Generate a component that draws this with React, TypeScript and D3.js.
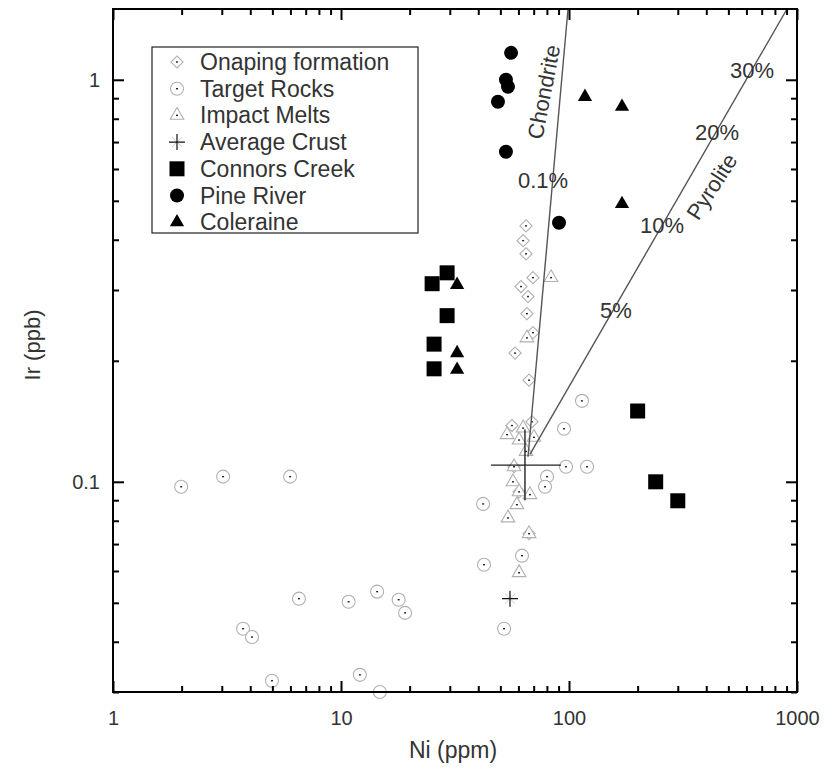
import { useEffect, useRef } from 'react';
import * as d3 from 'd3';

type Pt = [number, number];

// Ni (ppm), Ir (ppb)
const onaping: Pt[] = [
  [64.8, 0.433], [62.9, 0.398], [64.8, 0.369], [69.5, 0.322], [61.6, 0.306],
  [66.1, 0.289], [65.4, 0.262], [69.5, 0.235], [58.0, 0.209], [66.8, 0.179],
  [56.2, 0.138], [68.8, 0.141], [57.4, 0.109], [60.4, 0.0944], [66.8, 0.0743],
];
const targetRocks: Pt[] = [
  [1.99, 0.0972], [3.04, 0.103], [5.98, 0.103], [6.54, 0.0512], [3.72, 0.0431],
  [4.07, 0.0411], [4.98, 0.032], [10.8, 0.0503], [14.4, 0.0533], [17.9, 0.0509],
  [19.1, 0.0472], [12.1, 0.0331], [14.8, 0.03], [114, 0.159], [95.1, 0.1355],
  [97.0, 0.109], [120, 0.109], [80.1, 0.103], [78.5, 0.0972], [42.0, 0.0881],
  [62.2, 0.0655], [42.4, 0.0622], [51.9, 0.0431],
];
const impactMelts: Pt[] = [
  [83.4, 0.322], [65.4, 0.228], [62.9, 0.136], [53.5, 0.131], [60.4, 0.127],
  [70.2, 0.129], [64.8, 0.119], [57.4, 0.109], [56.8, 0.1], [60.4, 0.0944],
  [67.4, 0.0929], [59.1, 0.0877], [54.0, 0.0813], [66.8, 0.0743], [60.4, 0.0594],
];
const averageCrust: Pt[] = [[55.1, 0.0512]];
const connorsCreek: Pt[] = [
  [29.2, 0.331], [25.1, 0.311], [29.2, 0.259], [25.6, 0.22], [25.6, 0.191],
  [200, 0.15], [240, 0.1], [300, 0.0897],
];
const pineRiver: Pt[] = [
  [55.7, 1.167], [52.9, 1.0], [54.0, 0.961], [48.8, 0.882], [52.9, 0.662], [90.4, 0.441],
];
const coleraine: Pt[] = [
  [117.5, 0.907], [170.8, 0.857], [170.8, 0.491], [32.3, 0.309], [32.3, 0.209], [32.3, 0.19],
];

// mixing lines and the Onaping mean with its spread
const chondriteLine: Pt[] = [[66.1, 0.1154], [99, 1.5]];
const pyroliteLine: Pt[] = [[67.4, 0.117], [904, 1.5]];
const meanCross = { ni: 64.1, ir: 0.11, niLo: 45.5, niHi: 92.2, irLo: 0.09, irHi: 0.135 };

const lineLabels: { ni: number; ir: number; text: string; rot: number }[] = [
  { ni: 76.9, ir: 0.561, text: '0.1%', rot: 0 },
  { ni: 160.7, ir: 0.266, text: '5%', rot: 0 },
  { ni: 255.8, ir: 0.433, text: '10%', rot: 0 },
  { ni: 445.8, ir: 0.738, text: '20%', rot: 0 },
  { ni: 635, ir: 1.053, text: '30%', rot: 0 },
  { ni: 77.6, ir: 0.933, text: 'Chondrite', rot: -79 },
  { ni: 423.7, ir: 0.542, text: 'Pyrolite', rot: -57 },
];

const xMajor = [1, 10, 100, 1000];
const yMajor = [0.1, 1];

const legendItems = [
  { key: 'diamond', label: 'Onaping formation' },
  { key: 'ocircle', label: 'Target Rocks' },
  { key: 'otri', label: 'Impact Melts' },
  { key: 'plus', label: 'Average Crust' },
  { key: 'square', label: 'Connors Creek' },
  { key: 'fcircle', label: 'Pine River' },
  { key: 'ftri', label: 'Coleraine' },
];

const FONT = "'Liberation Sans', Arial, Helvetica, sans-serif";
const GREY = '#b0b0b0';

function drawMarker(g: d3.Selection<SVGGElement, unknown, null, undefined>, key: string, cx: number, cy: number) {
  const m = g.append('g').attr('transform', `translate(${cx},${cy})`);
  const sym = d3.symbol();
  if (key === 'diamond') {
    m.append('path').attr('d', sym.type(d3.symbolSquare).size(74)()).attr('transform', 'rotate(45)')
      .attr('fill', 'white').attr('stroke', GREY).attr('stroke-width', 1.1);
  } else if (key === 'ocircle') {
    m.append('circle').attr('r', 6.5).attr('fill', 'white').attr('stroke', GREY).attr('stroke-width', 1.1);
  } else if (key === 'otri') {
    m.append('path').attr('d', sym.type(d3.symbolTriangle).size(80)())
      .attr('fill', 'white').attr('stroke', GREY).attr('stroke-width', 1.1);
  } else if (key === 'plus') {
    m.append('path').attr('d', 'M-5,-5L5,5M-5,5L5,-5').attr('stroke', '#ccc').attr('stroke-width', 1);
    m.append('path').attr('d', 'M-8,0H8M0,-8V8').attr('stroke', '#111').attr('stroke-width', 1.2);
  } else if (key === 'square') {
    m.append('path').attr('d', sym.type(d3.symbolSquare).size(225)()).attr('fill', '#000');
  } else if (key === 'fcircle') {
    m.append('circle').attr('r', 7).attr('fill', '#000');
  } else if (key === 'ftri') {
    m.append('path').attr('d', sym.type(d3.symbolTriangle).size(88)()).attr('fill', '#000');
  }
  if (key === 'diamond' || key === 'ocircle' || key === 'otri') {
    m.append('rect').attr('x', -1).attr('y', -0.7).attr('width', 2).attr('height', 1.4).attr('fill', '#222');
  }
}

const App = () => {
  const ref = useRef<SVGSVGElement>(null);

  useEffect(() => {
    if (!ref.current) return;
    const svg = d3.select(ref.current);
    svg.selectAll('*').remove();

    const left = 113, right = 797, top = 9, bottom = 692;
    const x = d3.scaleLog().domain([1, 1000]).range([left, right]);
    const y = d3.scaleLog().domain([0.03, 1.5]).range([bottom, top]);

    const xTicks: number[] = [];
    for (const d of [1, 10, 100]) for (let k = 1; k < 10; k++) xTicks.push(d * k);
    xTicks.push(1000);
    const yTicks: number[] = [];
    for (const d of [0.01, 0.1]) for (let k = 1; k < 10; k++) {
      const v = +(d * k).toPrecision(3);
      if (v >= 0.03 && v <= 1.5) yTicks.push(v);
    }
    yTicks.push(1);
    const isMajor = (v: number, majors: number[]) => majors.some(m => Math.abs(m - v) < 1e-9);
    const fmt = (v: number) => (v >= 1 ? d3.format('d')(v) : String(v));

    const plot = svg.append('g');

    // open markers
    const g = plot.append('g') as any;
    targetRocks.forEach(d => drawMarker(g, 'ocircle', x(d[0]), y(d[1])));
    onaping.forEach(d => drawMarker(g, 'diamond', x(d[0]), y(d[1])));
    impactMelts.forEach(d => drawMarker(g, 'otri', x(d[0]), y(d[1])));

    // mixing lines
    const line = d3.line<Pt>().x(d => x(d[0])).y(d => y(d[1]));
    [chondriteLine, pyroliteLine].forEach(l => {
      plot.append('path').attr('d', line(l)).attr('fill', 'none').attr('stroke', '#555').attr('stroke-width', 1.4);
    });

    // mean with spread
    plot.append('path')
      .attr('d', `M${x(meanCross.niLo)},${y(meanCross.ir)}H${x(meanCross.niHi)}M${x(meanCross.ni)},${y(meanCross.irHi)}V${y(meanCross.irLo)}`)
      .attr('stroke', '#222').attr('stroke-width', 1.4).attr('fill', 'none');

    averageCrust.forEach(d => drawMarker(g, 'plus', x(d[0]), y(d[1])));
    connorsCreek.forEach(d => drawMarker(g, 'square', x(d[0]), y(d[1])));
    pineRiver.forEach(d => drawMarker(g, 'fcircle', x(d[0]), y(d[1])));
    coleraine.forEach(d => drawMarker(g, 'ftri', x(d[0]), y(d[1])));

    // line labels
    lineLabels.forEach(l => {
      plot.append('text')
        .attr('transform', `translate(${x(l.ni)},${y(l.ir)}) rotate(${l.rot})`)
        .attr('text-anchor', 'middle').attr('dominant-baseline', 'central')
        .style('font-family', FONT).style('font-size', '22px').attr('fill', '#333')
        .text(l.text);
    });

    // axes, ticks inward on all sides
    const styleAxis = (sel: any, majors: number[], vertical: boolean, sign: number) => {
      sel.select('.domain').remove();
      sel.selectAll('.tick line')
        .attr('stroke', '#000').attr('stroke-width', 2)
        .attr(vertical ? 'x2' : 'y2', (d: number) => sign * (isMajor(d, majors) ? 11 : 6));
      sel.selectAll('.tick text').style('font-family', FONT).style('font-size', '20px').attr('fill', '#333');
    };

    const xb = svg.append('g').attr('transform', `translate(0,${bottom})`)
      .call(d3.axisBottom(x).tickValues(xTicks).tickSize(-6).tickPadding(19)
        .tickFormat((d: any) => (isMajor(d, xMajor) ? fmt(d) : '')));
    styleAxis(xb, xMajor, false, -1);
    const xt = svg.append('g').attr('transform', `translate(0,${top})`)
      .call(d3.axisTop(x).tickValues(xTicks).tickSize(-6).tickFormat(() => ''));
    styleAxis(xt, xMajor, false, 1);
    const yl = svg.append('g').attr('transform', `translate(${left},0)`)
      .call(d3.axisLeft(y).tickValues(yTicks).tickSize(-6).tickPadding(13)
        .tickFormat((d: any) => (isMajor(d, yMajor) ? fmt(d) : '')));
    styleAxis(yl, yMajor, true, 1);
    const yr = svg.append('g').attr('transform', `translate(${right},0)`)
      .call(d3.axisRight(y).tickValues(yTicks).tickSize(-6).tickFormat(() => ''));
    styleAxis(yr, yMajor, true, -1);

    svg.append('rect').attr('x', left).attr('y', top).attr('width', right - left).attr('height', bottom - top)
      .attr('fill', 'none').attr('stroke', '#000').attr('stroke-width', 2);

    // axis titles
    svg.append('text').attr('x', 453).attr('y', 750)
      .attr('text-anchor', 'middle').attr('dominant-baseline', 'central')
      .style('font-family', FONT).style('font-size', '23px').attr('fill', '#333').text('Ni (ppm)');
    svg.append('text').attr('transform', `translate(32,345) rotate(-90)`)
      .attr('text-anchor', 'middle').attr('dominant-baseline', 'central')
      .style('font-family', FONT).style('font-size', '22px').attr('fill', '#333').text('Ir (ppb)');

    // legend
    const lg = svg.append('g') as any;
    lg.append('rect').attr('x', 152).attr('y', 47).attr('width', 266).attr('height', 186)
      .attr('fill', 'white').attr('stroke', '#222').attr('stroke-width', 1.2);
    legendItems.forEach((it, i) => {
      const cy = 62 + i * 26.7;
      drawMarker(lg, it.key, 177, cy);
      lg.append('text').attr('x', 200).attr('y', cy).attr('dominant-baseline', 'central')
        .style('font-family', FONT).style('font-size', '23px').attr('fill', '#333').text(it.label);
    });
  }, []);

  return (
    <svg ref={ref} width={826} height={775}
      style={{ position: 'absolute', left: 0, top: 0, background: 'white' }} />
  );
};

export default App;
